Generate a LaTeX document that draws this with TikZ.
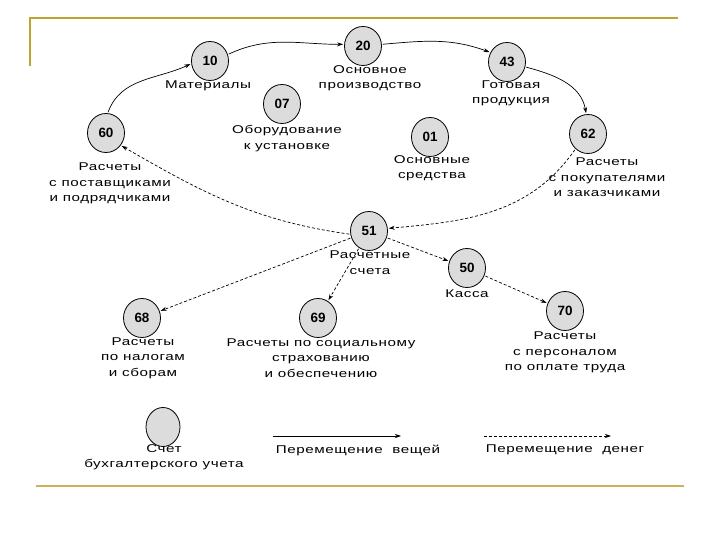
\documentclass[tikz,border=0pt]{standalone}
\usepackage{fontspec}
\setmainfont{Liberation Sans}[FakeStretch=1.35,LetterSpace=5]
\newfontfamily\numfont{Liberation Sans}
\usetikzlibrary{arrows.meta,shapes.geometric}
\definecolor{acc}{HTML}{DCDCDC}
\definecolor{topline}{HTML}{B9A530}
\definecolor{botline}{HTML}{D2AE5E}
\begin{document}
\begin{tikzpicture}[x=1bp,y=1bp,
  acct/.style={draw=black,line width=0.8pt,fill=acc,ellipse,minimum width=37bp,minimum height=39bp,inner sep=0pt,font=\numfont\bfseries\fontsize{13.5}{14}\selectfont},
  lbl/.style={align=center,font=\fontsize{11.3}{15.5}\selectfont,inner sep=0pt,text=black},
  thing/.style={line width=0.7pt,-{Stealth[length=6bp,width=4bp]},shorten >=1bp,shorten <=1bp},
  money/.style={line width=0.7pt,dash pattern=on 3bp off 2bp,-{Stealth[length=6bp,width=4bp]},shorten >=1bp,shorten <=1bp}]
\useasboundingbox (0,0) rectangle (720,-540);
% decorative frame lines
\draw[topline,line width=2bp] (30,-66) -- (30,-18) -- (678,-18);
\draw[botline,line width=2.5bp] (36,-486) -- (684,-486);
% accounts
\node[acct] (n10) at (210,-61) {10};
\node[acct] (n20) at (363,-46) {20};
\node[acct] (n43) at (507,-62) {43};
\node[acct] (n07) at (282,-104) {07};
\node[acct] (n60) at (106,-133) {60};
\node[acct] (n01) at (430,-137) {01};
\node[acct] (n62) at (588,-134) {62};
\node[acct] (n51) at (369,-231) {51};
\node[acct] (n50) at (467,-268) {50};
\node[acct] (n68) at (142,-318) {68};
\node[acct] (n69) at (318,-318) {69};
\node[acct] (n70) at (565,-311) {70};
% labels
\node[lbl] (l10) at (208,-86) {Материалы};
\node[lbl] (l20) at (370,-78) {Основное\\производство};
\node[lbl] (l43) at (511,-93.5) {Готовая\\продукция};
\node[lbl] (l07) at (287,-138.5) {Оборудование\\к установке};
\node[lbl] (l60) at (110,-183.5) {Расчеты\\с поставщиками\\и подрядчиками};
\node[lbl] (l01) at (432,-168) {Основные\\средства};
\node[lbl] (l62) at (607,-177.5) {Расчеты\\с покупателями\\и заказчиками};
\node[lbl] (l51) at (370,-262.5) {Расчетные\\счета};
\node[lbl] (l50) at (467,-294) {Касса};
\node[lbl] (l68) at (143,-358) {Расчеты\\по налогам\\и сборам};
\node[lbl] (l69) at (321,-358) {Расчеты по социальному\\страхованию\\и обеспечению};
\node[lbl] (l70) at (565,-352.5) {Расчеты\\с персоналом\\по оплате труда};
% movement of things
\draw[thing] (n60.85) to[out=70,in=205] (n10.188);
\draw[thing] (n10.20) to[out=25,in=180] (n20.175);
\draw[thing] (n20.5) to[out=5,in=160] (n43.150);
\draw[thing] (n43.-15) to[out=-15,in=100] (n62.95);
% movement of money
\draw[money] (n51.190) to[out=172,in=-30] (n60.-40);
\draw[money] (n62.-130) to[out=-125,in=5] (n51.8);
\draw[money] (n51) -- (n68);
\draw[money] (n51) -- (n69);
\draw[money] (n51) -- (n50);
\draw[money] (n50) -- (n70);
% legend
\node[acct,minimum width=34bp] (lg) at (163,-427) {};
\node[lbl] (lgt) at (164,-457.5) {Счет\\бухгалтерского учета};
\coordinate (s1) at (272,-436);
\coordinate (s2) at (402,-436);
\draw[thing] (s1) -- (s2);
\node[lbl] (lst) at (358,-450) {Перемещение\ \ вещей};
\coordinate (d1) at (483,-436);
\coordinate (d2) at (612,-436);
\draw[money] (d1) -- (d2);
\node[lbl] (ldt) at (565,-450) {Перемещение\ \ денег};
\end{tikzpicture}
\end{document}
